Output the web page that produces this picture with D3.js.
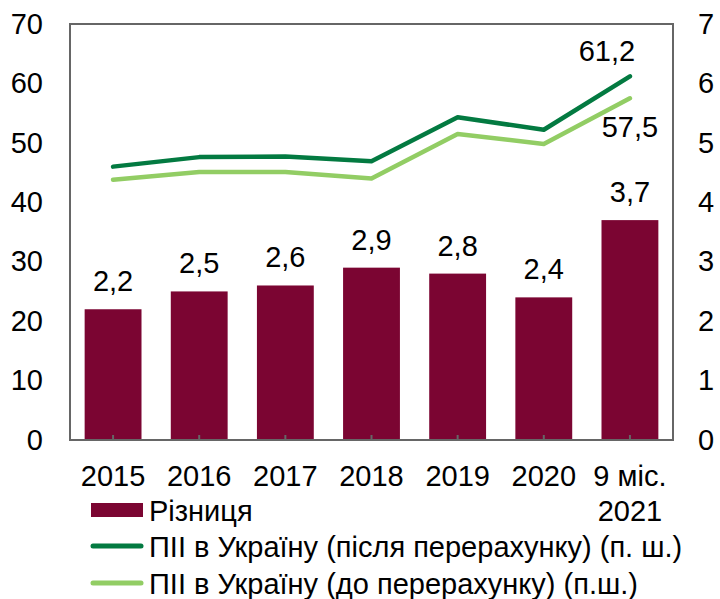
<!DOCTYPE html>
<html>
<head>
<meta charset="utf-8">
<script src="https://cdn.jsdelivr.net/npm/d3@7/dist/d3.min.js"></script>
<style>
  body { margin: 0; background: #fff; }
  svg { display: block; font-family: "Liberation Sans", Arial, sans-serif; }
</style>
</head>
<body>
<svg id="chart" width="720" height="599"></svg>
<script>
const categories = ["2015", "2016", "2017", "2018", "2019", "2020", "9 міс.|2021"];
const diffValues = [2.2, 2.5, 2.6, 2.9, 2.8, 2.4, 3.7];
const fdiAfter = [46.0, 47.6, 47.7, 46.9, 54.3, 52.2, 61.2];
const fdiBefore = [43.8, 45.1, 45.1, 44.0, 51.5, 49.8, 57.5];
const leftTicks = [0, 10, 20, 30, 40, 50, 60, 70];
const rightTicks = [0, 1, 2, 3, 4, 5, 6, 7];
const legendLabels = ["Різниця", "ПІІ в Україну (після перерахунку) (п. ш.)", "ПІІ в Україну (до перерахунку) (п.ш.)"];

const colors = { bar: "#7B0532", dark: "#037A41", light: "#92CD64", axis: "#666666" };
const fmt = v => d3.format(".1f")(v).replace(".", ",");
const FS = 29;

const svg = d3.select("#chart");
const m = { left: 70, right: 47, top: 24, bottom: 159 };
const W = 720, H = 599;
const x0 = m.left, x1 = W - m.right, y0 = H - m.bottom, y1 = m.top;

const x = d3.scaleBand().domain(categories).range([x0, x1]).paddingInner(0.34).paddingOuter(0.17);
const yL = d3.scaleLinear().domain([0, 70]).range([y0, y1]);
const yR = d3.scaleLinear().domain([0, 7]).range([y0, y1]);
const cx = c => x(c) + x.bandwidth() / 2;

// bars
svg.append("g").selectAll("rect").data(categories).join("rect")
  .attr("x", c => x(c)).attr("width", x.bandwidth())
  .attr("y", (c, i) => yR(diffValues[i]))
  .attr("height", (c, i) => yR(0) - yR(diffValues[i]))
  .attr("fill", colors.bar);

// frame
svg.append("rect").attr("x", x0).attr("y", y1).attr("width", x1 - x0).attr("height", y0 - y1)
  .attr("fill", "none").attr("stroke", colors.axis).attr("stroke-width", 2);

// bottom ticks (inward)
svg.append("g").selectAll("line").data(categories).join("line")
  .attr("x1", cx).attr("x2", cx).attr("y1", y0).attr("y2", y0 - 5)
  .attr("stroke", colors.axis).attr("stroke-width", 2);

// left axis
const gl = svg.append("g").attr("transform", `translate(${x0},0)`)
  .call(d3.axisLeft(yL).tickValues(leftTicks).tickSize(0).tickPadding(27).tickFormat(d3.format("d")));
gl.select(".domain").remove();
gl.selectAll("text").attr("font-size", FS).attr("fill", "#000").attr("font-family", "Liberation Sans, Arial, sans-serif");

// right axis
const gr = svg.append("g").attr("transform", `translate(${x1},0)`)
  .call(d3.axisRight(yR).tickValues(rightTicks).tickSize(0).tickPadding(25).tickFormat(d3.format("d")));
gr.select(".domain").remove();
gr.selectAll("text").attr("font-size", FS).attr("fill", "#000").attr("font-family", "Liberation Sans, Arial, sans-serif");

// x labels
const xl = svg.append("g");
categories.forEach(c => {
  const parts = c.split("|");
  parts.forEach((p, j) => {
    xl.append("text").attr("x", cx(c)).attr("y", 486 + j * 35)
      .attr("text-anchor", "middle").attr("font-size", FS).text(p);
  });
});

// lines
const line = vals => d3.line().x((d, i) => cx(categories[i])).y(d => yL(d))(vals);
svg.append("path").attr("d", line(fdiBefore)).attr("fill", "none")
  .attr("stroke", colors.light).attr("stroke-width", 4.5).attr("stroke-linecap", "round").attr("stroke-linejoin", "round");
svg.append("path").attr("d", line(fdiAfter)).attr("fill", "none")
  .attr("stroke", colors.dark).attr("stroke-width", 4.5).attr("stroke-linecap", "round").attr("stroke-linejoin", "round");

// bar labels
svg.append("g").selectAll("text").data(categories).join("text")
  .attr("x", cx).attr("y", (c, i) => yR(diffValues[i]) - 18)
  .attr("text-anchor", "middle").attr("font-size", FS)
  .text((c, i) => fmt(diffValues[i]));

// line end labels
const last = categories.length - 1;
svg.append("text").attr("x", cx(categories[last]) - 23).attr("y", yL(fdiAfter[last]) - 15)
  .attr("text-anchor", "middle").attr("font-size", FS).text(fmt(fdiAfter[last]));
svg.append("text").attr("x", cx(categories[last])).attr("y", yL(fdiBefore[last]) + 39)
  .attr("text-anchor", "middle").attr("font-size", FS).text(fmt(fdiBefore[last]));

// legend
const lg = svg.append("g");
const legY = [521, 557, 594];
lg.append("rect").attr("x", 91).attr("y", legY[0] - 18).attr("width", 52).attr("height", 14).attr("fill", colors.bar);
[colors.dark, colors.light].forEach((col, k) => {
  lg.append("line").attr("x1", 93).attr("x2", 141).attr("y1", legY[k + 1] - 11).attr("y2", legY[k + 1] - 11)
    .attr("stroke", col).attr("stroke-width", 5).attr("stroke-linecap", "round");
});
legendLabels.forEach((t, k) => {
  lg.append("text").attr("x", 149).attr("y", legY[k]).attr("font-size", FS).text(t);
});
</script>
</body>
</html>
